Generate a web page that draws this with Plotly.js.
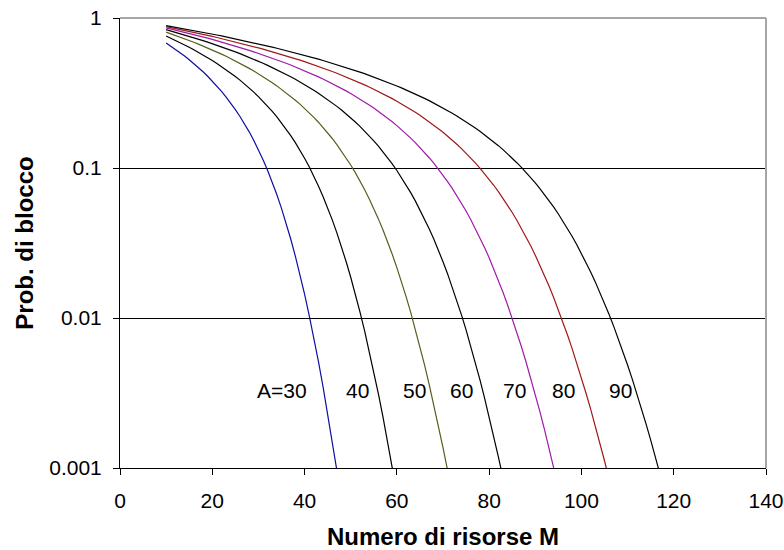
<!DOCTYPE html>
<html>
<head>
<meta charset="utf-8">
<script src="https://cdn.plot.ly/plotly-3.0.1.min.js"></script>
<style>html,body{margin:0;padding:0;background:#fff;}#chart{width:784px;height:550px;}</style>
</head>
<body>
<div id="chart"></div>
<script>
// Blocking probability vs number of resources M (M starts at 10, step 1)
const M_START = 10;
const trafficLabels = ["A=30", "40", "50", "60", "70", "80", "90"];
const pA30 = [0.6813,0.6501,0.6191,0.5883,0.5576,0.5272,0.4971,0.4673,0.4378,0.4088,0.3801,0.3519,0.3243,0.2972,0.2709,0.2453,0.2206,0.1969,0.1742,0.1527,0.1325,0.1136,0.09627,0.08047,0.06630,0.05377,0.04289,0.03361,0.02584,0.01949,0.01441,0.01043,0.007397,0.005134,0.003488,0.002320,0.001511,0.000963];
const pA40 = [0.7577,0.7337,0.7098,0.6859,0.6621,0.6384,0.6148,0.5913,0.5678,0.5445,0.5213,0.4982,0.4753,0.4525,0.4300,0.4076,0.3854,0.3634,0.3418,0.3204,0.2993,0.2786,0.2583,0.2384,0.2191,0.2002,0.1820,0.1644,0.1475,0.1314,0.1162,0.1018,0.08837,0.07596,0.06460,0.05430,0.04509,0.03696,0.02988,0.02381,0.01869,0.01445,0.01099,0.008227,0.006057,0.004386,0.003123,0.002187,0.001506,0.001020,0.000679];
const pA50 = [0.8047,0.7853,0.7659,0.7466,0.7272,0.7080,0.6887,0.6695,0.6503,0.6312,0.6121,0.5931,0.5741,0.5552,0.5363,0.5175,0.4988,0.4802,0.4616,0.4432,0.4248,0.4066,0.3885,0.3705,0.3527,0.3350,0.3176,0.3003,0.2832,0.2664,0.2498,0.2335,0.2175,0.2019,0.1866,0.1717,0.1573,0.1433,0.1299,0.1171,0.1048,0.09316,0.08221,0.07198,0.06248,0.05375,0.04579,0.03862,0.03222,0.02658,0.02167,0.01745,0.01388,0.01089,0.008439,0.006450,0.004863,0.003616,0.002652,0.001918,0.001368,0.000962];
const pA60 = [0.8365,0.8202,0.8040,0.7877,0.7715,0.7553,0.7391,0.7229,0.7067,0.6906,0.6744,0.6584,0.6423,0.6262,0.6102,0.5942,0.5783,0.5624,0.5465,0.5307,0.5149,0.4991,0.4834,0.4678,0.4522,0.4367,0.4212,0.4059,0.3906,0.3753,0.3602,0.3452,0.3303,0.3155,0.3008,0.2862,0.2719,0.2576,0.2436,0.2298,0.2161,0.2027,0.1896,0.1767,0.1641,0.1518,0.1399,0.1284,0.1172,0.1065,0.09627,0.08650,0.07724,0.06852,0.06036,0.05278,0.04578,0.03939,0.03358,0.02838,0.02374,0.01967,0.01613,0.01308,0.01050,0.008327,0.006531,0.005063,0.003880,0.002938,0.002199,0.001626,0.001188,0.000858];
const pA70 = [0.8594,0.8454,0.8314,0.8174,0.8034,0.7894,0.7755,0.7615,0.7476,0.7336,0.7197,0.7058,0.6919,0.6780,0.6642,0.6503,0.6365,0.6227,0.6089,0.5951,0.5813,0.5676,0.5539,0.5402,0.5266,0.5129,0.4993,0.4858,0.4723,0.4588,0.4453,0.4319,0.4186,0.4052,0.3920,0.3788,0.3657,0.3526,0.3396,0.3266,0.3138,0.3010,0.2884,0.2758,0.2634,0.2511,0.2389,0.2268,0.2149,0.2032,0.1916,0.1802,0.1691,0.1582,0.1475,0.1371,0.1269,0.1171,0.1076,0.09838,0.08957,0.08114,0.07312,0.06552,0.05836,0.05166,0.04542,0.03965,0.03436,0.02955,0.02520,0.02132,0.01787,0.01485,0.01222,0.009965,0.008046,0.006432,0.005090,0.003988,0.003092,0.002373,0.001802,0.001355,0.001008,0.000742];
const pA80 = [0.8767,0.8644,0.8521,0.8398,0.8276,0.8153,0.8030,0.7907,0.7785,0.7662,0.7540,0.7418,0.7295,0.7173,0.7051,0.6929,0.6807,0.6685,0.6564,0.6442,0.6321,0.6199,0.6078,0.5957,0.5836,0.5715,0.5595,0.5475,0.5354,0.5234,0.5114,0.4995,0.4875,0.4756,0.4637,0.4519,0.4401,0.4283,0.4165,0.4048,0.3931,0.3814,0.3698,0.3582,0.3467,0.3352,0.3238,0.3125,0.3012,0.2900,0.2788,0.2678,0.2568,0.2459,0.2351,0.2244,0.2139,0.2034,0.1931,0.1829,0.1729,0.1631,0.1534,0.1439,0.1346,0.1256,0.1167,0.1082,0.09987,0.09184,0.08412,0.07671,0.06963,0.06289,0.05651,0.05050,0.04487,0.03962,0.03477,0.03031,0.02623,0.02254,0.01922,0.01627,0.01366,0.01137,0.009385,0.007681,0.006231,0.005010,0.003992,0.003152,0.002466,0.001912,0.001468,0.001118,0.000843];
const pA90 = [0.8902,0.8793,0.8683,0.8574,0.8464,0.8355,0.8246,0.8136,0.8027,0.7918,0.7808,0.7699,0.7590,0.7481,0.7372,0.7263,0.7154,0.7046,0.6937,0.6828,0.6720,0.6611,0.6503,0.6394,0.6286,0.6178,0.6070,0.5962,0.5854,0.5746,0.5639,0.5531,0.5424,0.5317,0.5210,0.5103,0.4996,0.4889,0.4783,0.4677,0.4570,0.4465,0.4359,0.4254,0.4148,0.4043,0.3939,0.3834,0.3730,0.3627,0.3523,0.3420,0.3318,0.3216,0.3114,0.3013,0.2912,0.2812,0.2712,0.2613,0.2515,0.2417,0.2320,0.2224,0.2129,0.2035,0.1942,0.1850,0.1759,0.1669,0.1581,0.1494,0.1409,0.1325,0.1243,0.1163,0.1085,0.1009,0.09358,0.08645,0.07957,0.07296,0.06661,0.06056,0.05481,0.04936,0.04423,0.03942,0.03494,0.03078,0.02696,0.02346,0.02028,0.01741,0.01484,0.01256,0.01055,0.008799,0.007279,0.005974,0.004864,0.003929,0.003147,0.002500,0.001970,0.001539,0.001193,0.000917];

const xTickVals = [0,20,40,60,80,100,120,140];
const yTickVals = [0.001,0.01,0.1,1];
const yTickText = ["0.001","0.01","0.1","1"];

const seriesList = [pA30,pA40,pA50,pA60,pA70,pA80,pA90];
const colors = ["#0f0fa0","#000000","#5c5c1e","#000000","#a01aa8","#a01818","#000000"];
// label positions (x in M units, y in log10 units)
const labelX = [35.0,51.5,63.8,73.9,85.4,96.2,108.4];
const labelY = -2.48;

const FONT = "Liberation Sans, Arial, sans-serif";

const traces = seriesList.map((vals, i) => ({
  type: "scatter",
  mode: "lines",
  x: vals.map((_, k) => M_START + k),
  y: vals,
  line: {color: colors[i], width: 1.2},
  hoverinfo: "skip",
  showlegend: false
}));

const annotations = trafficLabels.map((t, i) => ({
  x: labelX[i], y: labelY, xref: "x", yref: "y",
  text: t, showarrow: false,
  font: {family: FONT, size: 21, color: "#000"}
}));

const shapes = [
  {type:"line", xref:"paper", x0:0, x1:1, yref:"paper", y0:1, y1:1, line:{color:"#a6a6a6", width:2}},
  {type:"line", xref:"paper", x0:1, x1:1, yref:"paper", y0:0, y1:1, line:{color:"#a6a6a6", width:2}}
];

const layout = {
  width: 784, height: 550,
  margin: {l: 120, r: 18, t: 18, b: 82},
  paper_bgcolor: "#fff", plot_bgcolor: "#fff",
  font: {family: FONT, size: 21, color: "#000"},
  xaxis: {
    range: [0, 140], tickvals: xTickVals, ticktext: xTickVals.map(String),
    showgrid: false, zeroline: false, showline: true, linecolor: "#000", linewidth: 1,
    ticks: "outside", ticklen: 6, tickcolor: "#000", tickwidth: 1, ticklabelstandoff: 8,
    tickfont: {family: FONT, size: 21, color: "#000"},
    title: {text: "<b>Numero di risorse M</b>", font: {family: FONT, size: 24, color: "#000"}, standoff: 16}
  },
  yaxis: {
    type: "log", range: [-3, 0], tickvals: yTickVals, ticktext: yTickText,
    showgrid: true, gridcolor: "#000", gridwidth: 1,
    zeroline: false, showline: true, linecolor: "#000", linewidth: 1,
    ticks: "outside", ticklen: 6, tickcolor: "#000", tickwidth: 1, ticklabelstandoff: 7,
    tickfont: {family: FONT, size: 21, color: "#000"},
    title: {text: "<b>Prob. di blocco</b>", font: {family: FONT, size: 24, color: "#000"}, standoff: 8}
  },
  annotations: annotations,
  shapes: shapes
};

Plotly.newPlot("chart", traces, layout, {staticPlot: true, displayModeBar: false});
</script>
</body>
</html>
